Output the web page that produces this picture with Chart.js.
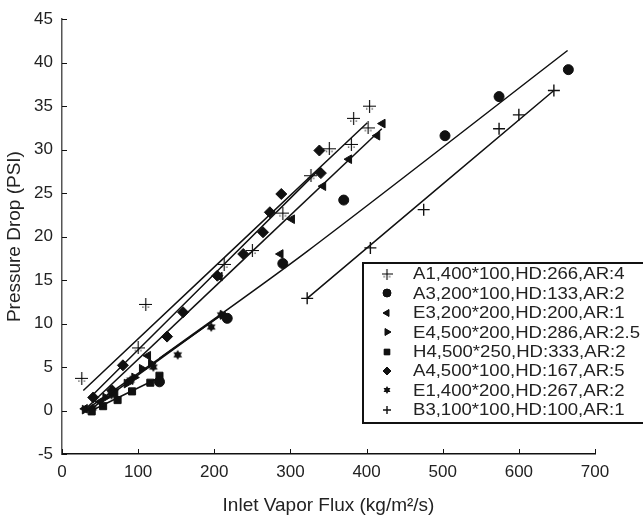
<!DOCTYPE html>
<html lang="en">
<head>
<meta charset="UTF-8">
<title>Pressure Drop vs Inlet Vapor Flux</title>
<script src="https://cdn.jsdelivr.net/npm/chart.js"></script>
<style>
  body { margin: 0; background: #fff; }
</style>
</head>
<body>
<canvas id="chart" width="643" height="521"></canvas>
<script>
// legend labels
const names = [
  'A1,400*100,HD:266,AR:4',
  'A3,200*100,HD:133,AR:2',
  'E3,200*200,HD:200,AR:1',
  'E4,500*200,HD:286,AR:2.5',
  'H4,500*250,HD:333,AR:2',
  'A4,500*100,HD:167,AR:5',
  'E1,400*200,HD:267,AR:2',
  'B3,100*100,HD:100,AR:1'
];

// measured points (x = inlet vapor flux, y = pressure drop)
const a1X = [26, 100, 110, 213, 250, 290, 327, 351, 380, 383, 402, 404];
const a1Y = [3.7, 7.2, 12.2, 16.8, 18.4, 22.7, 27, 30.1, 30.6, 33.6, 32.5, 35];
const a3X = [128, 217, 290, 370, 503, 574, 665];
const a3Y = [3.3, 10.6, 16.9, 24.2, 31.6, 36.1, 39.2];
const e3X = [30, 50, 70, 90, 113, 207, 287, 302, 343, 377, 414, 421];
const e3Y = [0.2, 1.0, 2.0, 3.5, 6.3, 15.4, 18, 22, 25.8, 28.9, 31.6, 33];
const e4X = [30, 57, 67, 85, 95, 105, 117, 211];
const e4Y = [0.1, 1.5, 2.3, 3.1, 3.8, 4.8, 5.4, 11];
const h4X = [39, 54, 73, 92, 116, 128];
const h4Y = [-0.1, 0.5, 1.2, 2.2, 3.2, 4.0];
const a4X = [41, 66, 80, 138, 159, 204, 238, 264, 273, 288, 338, 340];
const a4Y = [1.5, 2.3, 5.2, 8.5, 11.3, 15.5, 18, 20.5, 22.8, 24.9, 29.9, 27.3];
const e1X = [40, 65, 90, 120, 152, 196, 209];
const e1Y = [0.3, 1.8, 3.5, 5.0, 6.4, 9.6, 11];
const b3X = [322, 405, 475, 574, 600, 646];
const b3Y = [12.9, 18.7, 23.1, 32.4, 34, 36.8];

// fitted trend lines
const a1FitX = [28, 401];       const a1FitY = [2.3, 33.1];
const a3FitX = [128, 322, 664]; const a3FitY = [6.0, 18.3, 41.4];
const e3FitX = [33, 420];       const e3FitY = [0.35, 32.4];
const e4FitX = [30, 215];       const e4FitY = [0.0, 11.3];
const h4FitX = [39, 128];       const h4FitY = [0.0, 3.8];
const a4FitX = [37, 340];       const a4FitY = [1.5, 27.9];
const e1FitX = [40, 212];       const e1FitY = [0.3, 11.2];
const b3FitX = [322, 646];      const b3FitY = [12.9, 36.8];

const xTicks = [0, 100, 200, 300, 400, 500, 600, 700];
const yTicks = [-5, 0, 5, 10, 15, 20, 25, 30, 35, 40, 45];

const FONT = '"Liberation Sans", Arial, sans-serif';

function pts(xs, ys) { return xs.map((x, i) => ({ x: x, y: ys[i] })); }

// six pointed star marker for E1
function hexStar(r) {
  const c = document.createElement('canvas');
  c.width = c.height = r * 2 + 2;
  const g = c.getContext('2d');
  const cx = r + 1, cy = r + 1;
  g.fillStyle = '#111';
  for (let k = 0; k < 2; k++) {
    g.beginPath();
    for (let i = 0; i < 3; i++) {
      const a = -Math.PI / 2 + k * Math.PI + i * 2 * Math.PI / 3;
      const px = cx + r * Math.cos(a), py = cy + r * Math.sin(a);
      if (i === 0) g.moveTo(px, py); else g.lineTo(px, py);
    }
    g.closePath();
    g.fill();
  }
  return c;
}

// plus with two small dots for A1
function dotPlus(r) {
  const c = document.createElement('canvas');
  c.width = c.height = r * 2 + 1;
  const g = c.getContext('2d');
  const m = r + 0.5;
  g.strokeStyle = '#000';
  g.lineWidth = 1.1;
  g.beginPath();
  g.moveTo(0, m); g.lineTo(2 * r + 1, m);
  g.moveTo(m, 0); g.lineTo(m, 2 * r + 1);
  g.stroke();
  g.fillStyle = '#333';
  g.fillRect(m - 3.5, m + 2, 1.3, 1.3);
  g.fillRect(m + 2, m + 2, 1.3, 1.3);
  return c;
}

const markers = [
  { style: dotPlus(6), rot: 0, r: 6, bw: 1.2, fill: false },
  { style: 'circle', rot: 0, r: 5, bw: 1, fill: true },
  { style: 'triangle', rot: -90, r: 5, bw: 1, fill: true },
  { style: 'triangle', rot: 90, r: 5, bw: 1, fill: true },
  { style: 'rect', rot: 0, r: 5, bw: 1, fill: true },
  { style: 'rectRot', rot: 0, r: 5.5, bw: 1, fill: true },
  { style: hexStar(5), rot: 0, r: 5, bw: 1, fill: true },
  { style: 'cross', rot: 0, r: 6, bw: 1.4, fill: false }
];
const legendMarkers = [dotPlus(5), 'circle', 'triangle', 'triangle', 'rect', 'rectRot', hexStar(4), 'cross'];

const series = [
  pts(a1X, a1Y), pts(a3X, a3Y), pts(e3X, e3Y), pts(e4X, e4Y),
  pts(h4X, h4Y), pts(a4X, a4Y), pts(e1X, e1Y), pts(b3X, b3Y)
];
const fits = [
  pts(a1FitX, a1FitY), pts(a3FitX, a3FitY), pts(e3FitX, e3FitY), pts(e4FitX, e4FitY),
  pts(h4FitX, h4FitY), pts(a4FitX, a4FitY), pts(e1FitX, e1FitY), pts(b3FitX, b3FitY)
];

const datasets = [];
fits.forEach(f => {
  datasets.push({
    data: f, showLine: true, borderColor: '#111', borderWidth: 1.5,
    pointRadius: 0, fill: false, tension: 0.3
  });
});
series.forEach((s, i) => {
  const m = markers[i];
  datasets.push({
    label: names[i], data: s, showLine: false,
    pointStyle: m.style, rotation: m.rot, pointRadius: m.r,
    borderColor: '#111', backgroundColor: '#111', borderWidth: m.bw
  });
});

// inward ticks, boxed legend in plot
const extras = {
  id: 'extras',
  afterDraw(chart) {
    const ctx = chart.ctx;
    const { left, bottom } = chart.chartArea;
    const xs = chart.scales.x, ys = chart.scales.y;
    ctx.save();
    ctx.strokeStyle = '#111';
    ctx.lineWidth = 1;
    xTicks.forEach(v => {
      const p = Math.round(xs.getPixelForValue(v)) + 0.5;
      ctx.beginPath(); ctx.moveTo(p, bottom); ctx.lineTo(p, bottom - 5); ctx.stroke();
    });
    yTicks.forEach(v => {
      const p = Math.round(ys.getPixelForValue(v)) + 0.5;
      ctx.beginPath(); ctx.moveTo(left, p); ctx.lineTo(left + 5, p); ctx.stroke();
    });

    // legend
    const bx = 363, by = 263, bw = 290, bh = 160;
    ctx.fillStyle = '#fff';
    ctx.fillRect(bx, by, bw, bh);
    ctx.lineWidth = 2;
    ctx.strokeRect(bx, by, bw, bh);
    ctx.font = '16px ' + FONT;
    ctx.textBaseline = 'middle';
    names.forEach((n, i) => {
      const y = 274 + i * 19.4;
      const m = markers[i];
      ctx.fillStyle = '#111';
      ctx.strokeStyle = '#111';
      ctx.lineWidth = m.bw;
      Chart.helpers.drawPoint(ctx, { pointStyle: legendMarkers[i], rotation: m.rot, radius: 4, borderWidth: m.bw }, 387, Math.round(y));
      if (m.fill && typeof legendMarkers[i] === 'string') ctx.fill();
      ctx.save();
      ctx.translate(413, y + 1);
      ctx.scale(1.16, 1);
      ctx.fillStyle = '#222';
      ctx.fillText(n, 0, 0);
      ctx.restore();
    });
    ctx.restore();
  }
};

new Chart(document.getElementById('chart'), {
  type: 'scatter',
  data: { datasets: datasets },
  options: {
    responsive: false,
    animation: false,
    layout: { padding: { left: 0, right: 48, top: 16, bottom: 0 } },
    plugins: { legend: { display: false }, tooltip: { enabled: false } },
    scales: {
      x: {
        type: 'linear', min: 0, max: 700,
        afterFit(s) { s.height = 67; },
        afterBuildTicks(s) { s.ticks = xTicks.map(v => ({ value: v })); },
        grid: { drawOnChartArea: false, drawTicks: false },
        border: { color: '#111', width: 1.5 },
        ticks: { color: '#222', padding: 8, font: { size: 17, family: FONT } },
        title: { display: true, text: 'Inlet Vapor Flux (kg/m²/s)', color: '#222', padding: { top: 4, bottom: 4 },
                 font: { size: 19, family: FONT } }
      },
      y: {
        type: 'linear', min: -5, max: 45,
        afterFit(s) { s.width = 62; },
        afterBuildTicks(s) { s.ticks = yTicks.map(v => ({ value: v })); },
        grid: { drawOnChartArea: false, drawTicks: false },
        border: { color: '#555', width: 1.5 },
        ticks: { color: '#222', padding: 9, font: { size: 17, family: FONT } },
        title: { display: true, text: 'Pressure Drop (PSI)', color: '#222', padding: { top: 3, bottom: 0 },
                 font: { size: 19, family: FONT } }
      }
    }
  },
  plugins: [extras]
});
</script>
</body>
</html>
